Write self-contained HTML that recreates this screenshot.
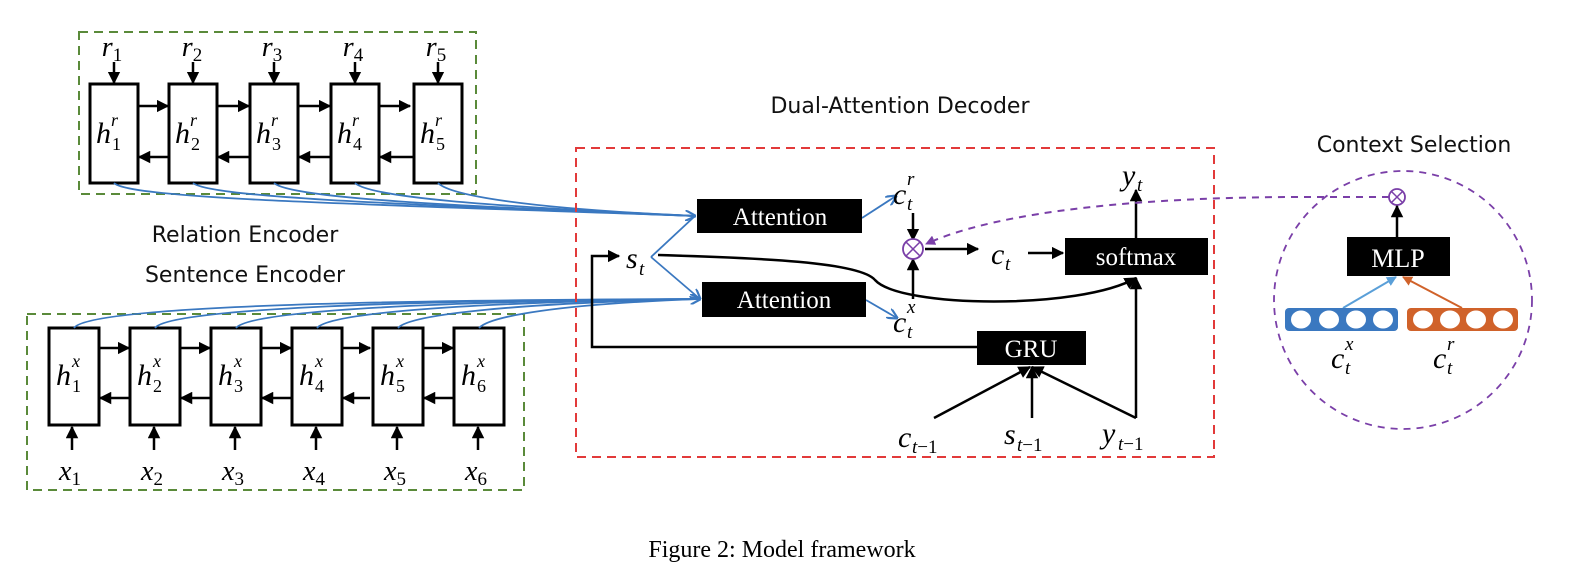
<!DOCTYPE html>
<html><head><meta charset="utf-8"><style>
body{margin:0;background:#fff}
svg{display:block}
.m{font-family:"Liberation Serif",serif;font-style:italic}
.s{font-family:"DejaVu Sans","Liberation Sans",sans-serif}
</style></head><body>
<svg width="1569" height="570" viewBox="0 0 1569 570" xmlns="http://www.w3.org/2000/svg">
<defs>
<marker id="a" viewBox="0 0 10 10" refX="9" refY="5" markerWidth="5" markerHeight="5" orient="auto"><path d="M0,0L10,5L0,10z" fill="#000"/></marker>
<marker id="b" viewBox="0 0 10 10" refX="9" refY="5" markerWidth="6" markerHeight="6" orient="auto"><path d="M0,0L10,5L0,10" fill="none" stroke="#3a78c0" stroke-width="2"/></marker>
<marker id="p" viewBox="0 0 10 10" refX="9" refY="5" markerWidth="5" markerHeight="5" orient="auto"><path d="M0,0L10,5L0,10z" fill="#7a3fa8"/></marker>
<marker id="o" viewBox="0 0 10 10" refX="9" refY="5" markerWidth="5" markerHeight="5" orient="auto"><path d="M0,0L10,5L0,10z" fill="#d0622a"/></marker>
<marker id="lb" viewBox="0 0 10 10" refX="9" refY="5" markerWidth="5" markerHeight="5" orient="auto"><path d="M0,0L10,5L0,10z" fill="#5a9fd8"/></marker>
</defs>
<!-- Relation encoder -->
<rect x="79" y="32" width="397" height="162" fill="none" stroke="#5a8a3a" stroke-width="2" stroke-dasharray="9,6"/>
<g stroke="#000" stroke-width="3" fill="#fff">
<rect x="90" y="84" width="48" height="99"/><rect x="169" y="84" width="48" height="99"/><rect x="250" y="84" width="48" height="99"/><rect x="331" y="84" width="48" height="99"/><rect x="414" y="84" width="48" height="99"/>
</g>
<g stroke="#000" stroke-width="2.5" marker-end="url(#a)">
<line x1="114" y1="62" x2="114" y2="83"/><line x1="193" y1="62" x2="193" y2="83"/><line x1="274" y1="62" x2="274" y2="83"/><line x1="355" y1="62" x2="355" y2="83"/><line x1="438" y1="62" x2="438" y2="83"/>
<line x1="139" y1="106" x2="168" y2="106"/><line x1="218" y1="106" x2="249" y2="106"/><line x1="299" y1="106" x2="330" y2="106"/><line x1="380" y1="106" x2="410" y2="106"/>
<line x1="168" y1="157" x2="139" y2="157"/><line x1="249" y1="157" x2="218" y2="157"/><line x1="330" y1="157" x2="299" y2="157"/><line x1="413" y1="157" x2="380" y2="157"/>
</g>
<g class="m" font-size="28" text-anchor="middle">
<text x="112" y="56">r<tspan font-style="normal" font-size="19" dy="5">1</tspan></text>
<text x="192" y="56">r<tspan font-style="normal" font-size="19" dy="5">2</tspan></text>
<text x="272" y="56">r<tspan font-style="normal" font-size="19" dy="5">3</tspan></text>
<text x="353" y="56">r<tspan font-style="normal" font-size="19" dy="5">4</tspan></text>
<text x="436" y="56">r<tspan font-style="normal" font-size="19" dy="5">5</tspan></text>
</g>
<g class="m" font-size="30">
<text x="96" y="143">h</text><text x="111" y="126" font-size="18">r</text><text x="112" y="150" font-size="18" font-style="normal">1</text>
<text x="175" y="143">h</text><text x="190" y="126" font-size="18">r</text><text x="191" y="150" font-size="18" font-style="normal">2</text>
<text x="256" y="143">h</text><text x="271" y="126" font-size="18">r</text><text x="272" y="150" font-size="18" font-style="normal">3</text>
<text x="337" y="143">h</text><text x="352" y="126" font-size="18">r</text><text x="353" y="150" font-size="18" font-style="normal">4</text>
<text x="420" y="143">h</text><text x="435" y="126" font-size="18">r</text><text x="436" y="150" font-size="18" font-style="normal">5</text>
</g>
<!-- Sentence encoder -->
<rect x="27" y="314" width="497" height="176" fill="none" stroke="#5a8a3a" stroke-width="2" stroke-dasharray="9,6"/>
<g stroke="#000" stroke-width="3" fill="#fff">
<rect x="49" y="328" width="50" height="97"/><rect x="130" y="328" width="50" height="97"/><rect x="211" y="328" width="50" height="97"/><rect x="292" y="328" width="50" height="97"/><rect x="373" y="328" width="50" height="97"/><rect x="454" y="328" width="50" height="97"/>
</g>
<g stroke="#000" stroke-width="2.5" marker-end="url(#a)">
<line x1="72" y1="450" x2="72" y2="427"/><line x1="154" y1="450" x2="154" y2="427"/><line x1="235" y1="450" x2="235" y2="427"/><line x1="316" y1="450" x2="316" y2="427"/><line x1="397" y1="450" x2="397" y2="427"/><line x1="478" y1="450" x2="478" y2="427"/>
<line x1="100" y1="348" x2="129" y2="348"/><line x1="181" y1="348" x2="210" y2="348"/><line x1="262" y1="348" x2="291" y2="348"/><line x1="343" y1="348" x2="370" y2="348"/><line x1="424" y1="348" x2="453" y2="348"/>
<line x1="129" y1="398" x2="100" y2="398"/><line x1="210" y1="398" x2="181" y2="398"/><line x1="291" y1="398" x2="262" y2="398"/><line x1="370" y1="398" x2="343" y2="398"/><line x1="453" y1="398" x2="424" y2="398"/>
</g>
<g class="m" font-size="30">
<text x="56" y="385">h</text><text x="72" y="367" font-size="18">x</text><text x="72" y="392" font-size="18" font-style="normal">1</text>
<text x="137" y="385">h</text><text x="153" y="367" font-size="18">x</text><text x="153" y="392" font-size="18" font-style="normal">2</text>
<text x="218" y="385">h</text><text x="234" y="367" font-size="18">x</text><text x="234" y="392" font-size="18" font-style="normal">3</text>
<text x="299" y="385">h</text><text x="315" y="367" font-size="18">x</text><text x="315" y="392" font-size="18" font-style="normal">4</text>
<text x="380" y="385">h</text><text x="396" y="367" font-size="18">x</text><text x="396" y="392" font-size="18" font-style="normal">5</text>
<text x="461" y="385">h</text><text x="477" y="367" font-size="18">x</text><text x="477" y="392" font-size="18" font-style="normal">6</text>
</g>
<g class="m" font-size="28" text-anchor="middle">
<text x="70" y="480">x<tspan font-style="normal" font-size="19" dy="5">1</tspan></text>
<text x="152" y="480">x<tspan font-style="normal" font-size="19" dy="5">2</tspan></text>
<text x="233" y="480">x<tspan font-style="normal" font-size="19" dy="5">3</tspan></text>
<text x="314" y="480">x<tspan font-style="normal" font-size="19" dy="5">4</tspan></text>
<text x="395" y="480">x<tspan font-style="normal" font-size="19" dy="5">5</tspan></text>
<text x="476" y="480">x<tspan font-style="normal" font-size="19" dy="5">6</tspan></text>
</g>
<g class="s" font-size="22" text-anchor="middle" fill="#111">
<text x="245" y="242">Relation Encoder</text>
<text x="245" y="282">Sentence Encoder</text>
<text x="900" y="113">Dual-Attention Decoder</text>
<text x="1414" y="152">Context Selection</text>
</g>
<!-- blue curves -->
<g fill="none" stroke="#3a78c0" stroke-width="1.8">
<path d="M114,183 C130,200 400,205 695,216"/>
<path d="M193,183 C210,198 420,205 695,216"/>
<path d="M274,183 C290,198 450,206 695,216"/>
<path d="M355,183 C370,197 480,206 695,216"/>
<path d="M438,183 C450,195 520,208 695,216" marker-end="url(#b)"/>
<path d="M74,328 C90,305 400,300 700,299"/>
<path d="M155,328 C170,308 420,300 700,299"/>
<path d="M236,328 C250,310 450,301 700,299"/>
<path d="M317,328 C330,312 480,302 700,299"/>
<path d="M398,328 C410,314 520,303 700,299"/>
<path d="M479,328 C490,316 560,304 700,299" marker-end="url(#b)"/>
<path d="M651,257 L695,216"/>
<path d="M651,257 L700,299" marker-end="url(#b)"/>
<path d="M862,218 L896,196" marker-end="url(#b)"/>
<path d="M866,300 L897,318" marker-end="url(#b)"/>
</g>
<!-- decoder -->
<rect x="576" y="148" width="638" height="309" fill="none" stroke="#e23a3a" stroke-width="2" stroke-dasharray="9,6"/>
<rect x="697" y="199" width="165" height="34" fill="#000"/>
<rect x="702" y="282" width="164" height="35" fill="#000"/>
<rect x="1065" y="238" width="143" height="37" fill="#000"/>
<rect x="977" y="331" width="109" height="34" fill="#000"/>
<g font-family="Liberation Serif,serif" fill="#fff" font-size="25" text-anchor="middle">
<text x="780" y="225">Attention</text><text x="784" y="308">Attention</text><text x="1136" y="265">softmax</text><text x="1031" y="357">GRU</text>
</g>
<g stroke="#000" stroke-width="2.5" fill="none">
<polyline points="977,347 592,347 592,256 619,256" marker-end="url(#a)"/>
<line x1="913" y1="213" x2="913" y2="240" marker-end="url(#a)"/>
<line x1="913" y1="299" x2="913" y2="259" marker-end="url(#a)"/>
<line x1="925" y1="249" x2="978" y2="249" marker-end="url(#a)"/>
<line x1="1028" y1="253" x2="1063" y2="253" marker-end="url(#a)"/>
<line x1="1136" y1="238" x2="1136" y2="190" marker-end="url(#a)"/>
<path d="M658,255 C760,258 860,262 875,280 C900,308 1080,310 1136,278" marker-end="url(#a)"/>
<line x1="934" y1="418" x2="1030" y2="367" marker-end="url(#a)"/>
<line x1="1032" y1="418" x2="1032" y2="367" marker-end="url(#a)"/>
<line x1="1136" y1="418" x2="1032" y2="367" marker-end="url(#a)"/>
<line x1="1136" y1="418" x2="1136" y2="278" marker-end="url(#a)"/>
</g>
<circle cx="913" cy="249" r="10" fill="#fff" stroke="#7a3fa8" stroke-width="1.8"/>
<path d="M906,242L920,256M920,242L906,256" stroke="#7a3fa8" stroke-width="1.5"/>
<g class="m" font-size="30">
<text x="626" y="268">s</text><text x="639" y="275" font-size="19">t</text>
<text x="893" y="204">c</text><text x="907" y="185" font-size="19">r</text><text x="907" y="210" font-size="19">t</text>
<text x="893" y="332">c</text><text x="907" y="313" font-size="19">x</text><text x="907" y="338" font-size="19">t</text>
<text x="991" y="264">c</text><text x="1005" y="270" font-size="19">t</text>
<text x="1122" y="185">y</text><text x="1137" y="191" font-size="19">t</text>
<text x="898" y="447">c</text><text x="912" y="453" font-size="19">t<tspan font-style="normal">−1</tspan></text>
<text x="1004" y="444">s</text><text x="1017" y="451" font-size="19">t<tspan font-style="normal">−1</tspan></text>
<text x="1102" y="443">y</text><text x="1118" y="450" font-size="19">t<tspan font-style="normal">−1</tspan></text>
</g>
<!-- context selection -->
<circle cx="1403" cy="300" r="129" fill="none" stroke="#7a3fa8" stroke-width="1.8" stroke-dasharray="7,6"/>
<path d="M1389,197 L1300,197 C1150,197 1000,210 926,244" fill="none" stroke="#7a3fa8" stroke-width="2" stroke-dasharray="7,6" marker-end="url(#p)"/>
<circle cx="1397" cy="197" r="8" fill="#fff" stroke="#7a3fa8" stroke-width="1.8"/>
<path d="M1391,191L1403,203M1403,191L1391,203" stroke="#7a3fa8" stroke-width="1.5"/>
<line x1="1397" y1="237" x2="1397" y2="206" stroke="#000" stroke-width="2.5" marker-end="url(#a)"/>
<rect x="1347" y="237" width="103" height="39" fill="#000"/>
<text x="1398" y="267" font-family="Liberation Serif,serif" fill="#fff" font-size="26" text-anchor="middle">MLP</text>
<line x1="1343" y1="308" x2="1396" y2="277" stroke="#5a9fd8" stroke-width="2" marker-end="url(#lb)"/>
<line x1="1462" y1="308" x2="1403" y2="277" stroke="#d0622a" stroke-width="2" marker-end="url(#o)"/>
<rect x="1285" y="308" width="113" height="23" rx="4" fill="#3a78c0"/>
<rect x="1407" y="308" width="111" height="23" rx="4" fill="#d0622a"/>
<g fill="#fff">
<ellipse cx="1301" cy="319.5" rx="10" ry="9"/><ellipse cx="1329" cy="319.5" rx="10" ry="9"/><ellipse cx="1356" cy="319.5" rx="10" ry="9"/><ellipse cx="1383" cy="319.5" rx="10" ry="9"/>
<ellipse cx="1423" cy="319.5" rx="10" ry="9"/><ellipse cx="1450" cy="319.5" rx="10" ry="9"/><ellipse cx="1476" cy="319.5" rx="10" ry="9"/><ellipse cx="1503" cy="319.5" rx="10" ry="9"/>
</g>
<g class="m" font-size="30">
<text x="1331" y="368">c</text><text x="1345" y="350" font-size="19">x</text><text x="1345" y="374" font-size="19">t</text>
<text x="1433" y="368">c</text><text x="1447" y="350" font-size="19">r</text><text x="1447" y="374" font-size="19">t</text>
</g>
<text x="782" y="557" font-family="Liberation Serif,serif" font-size="24" text-anchor="middle">Figure 2: Model framework</text>
</svg>
</body></html>
